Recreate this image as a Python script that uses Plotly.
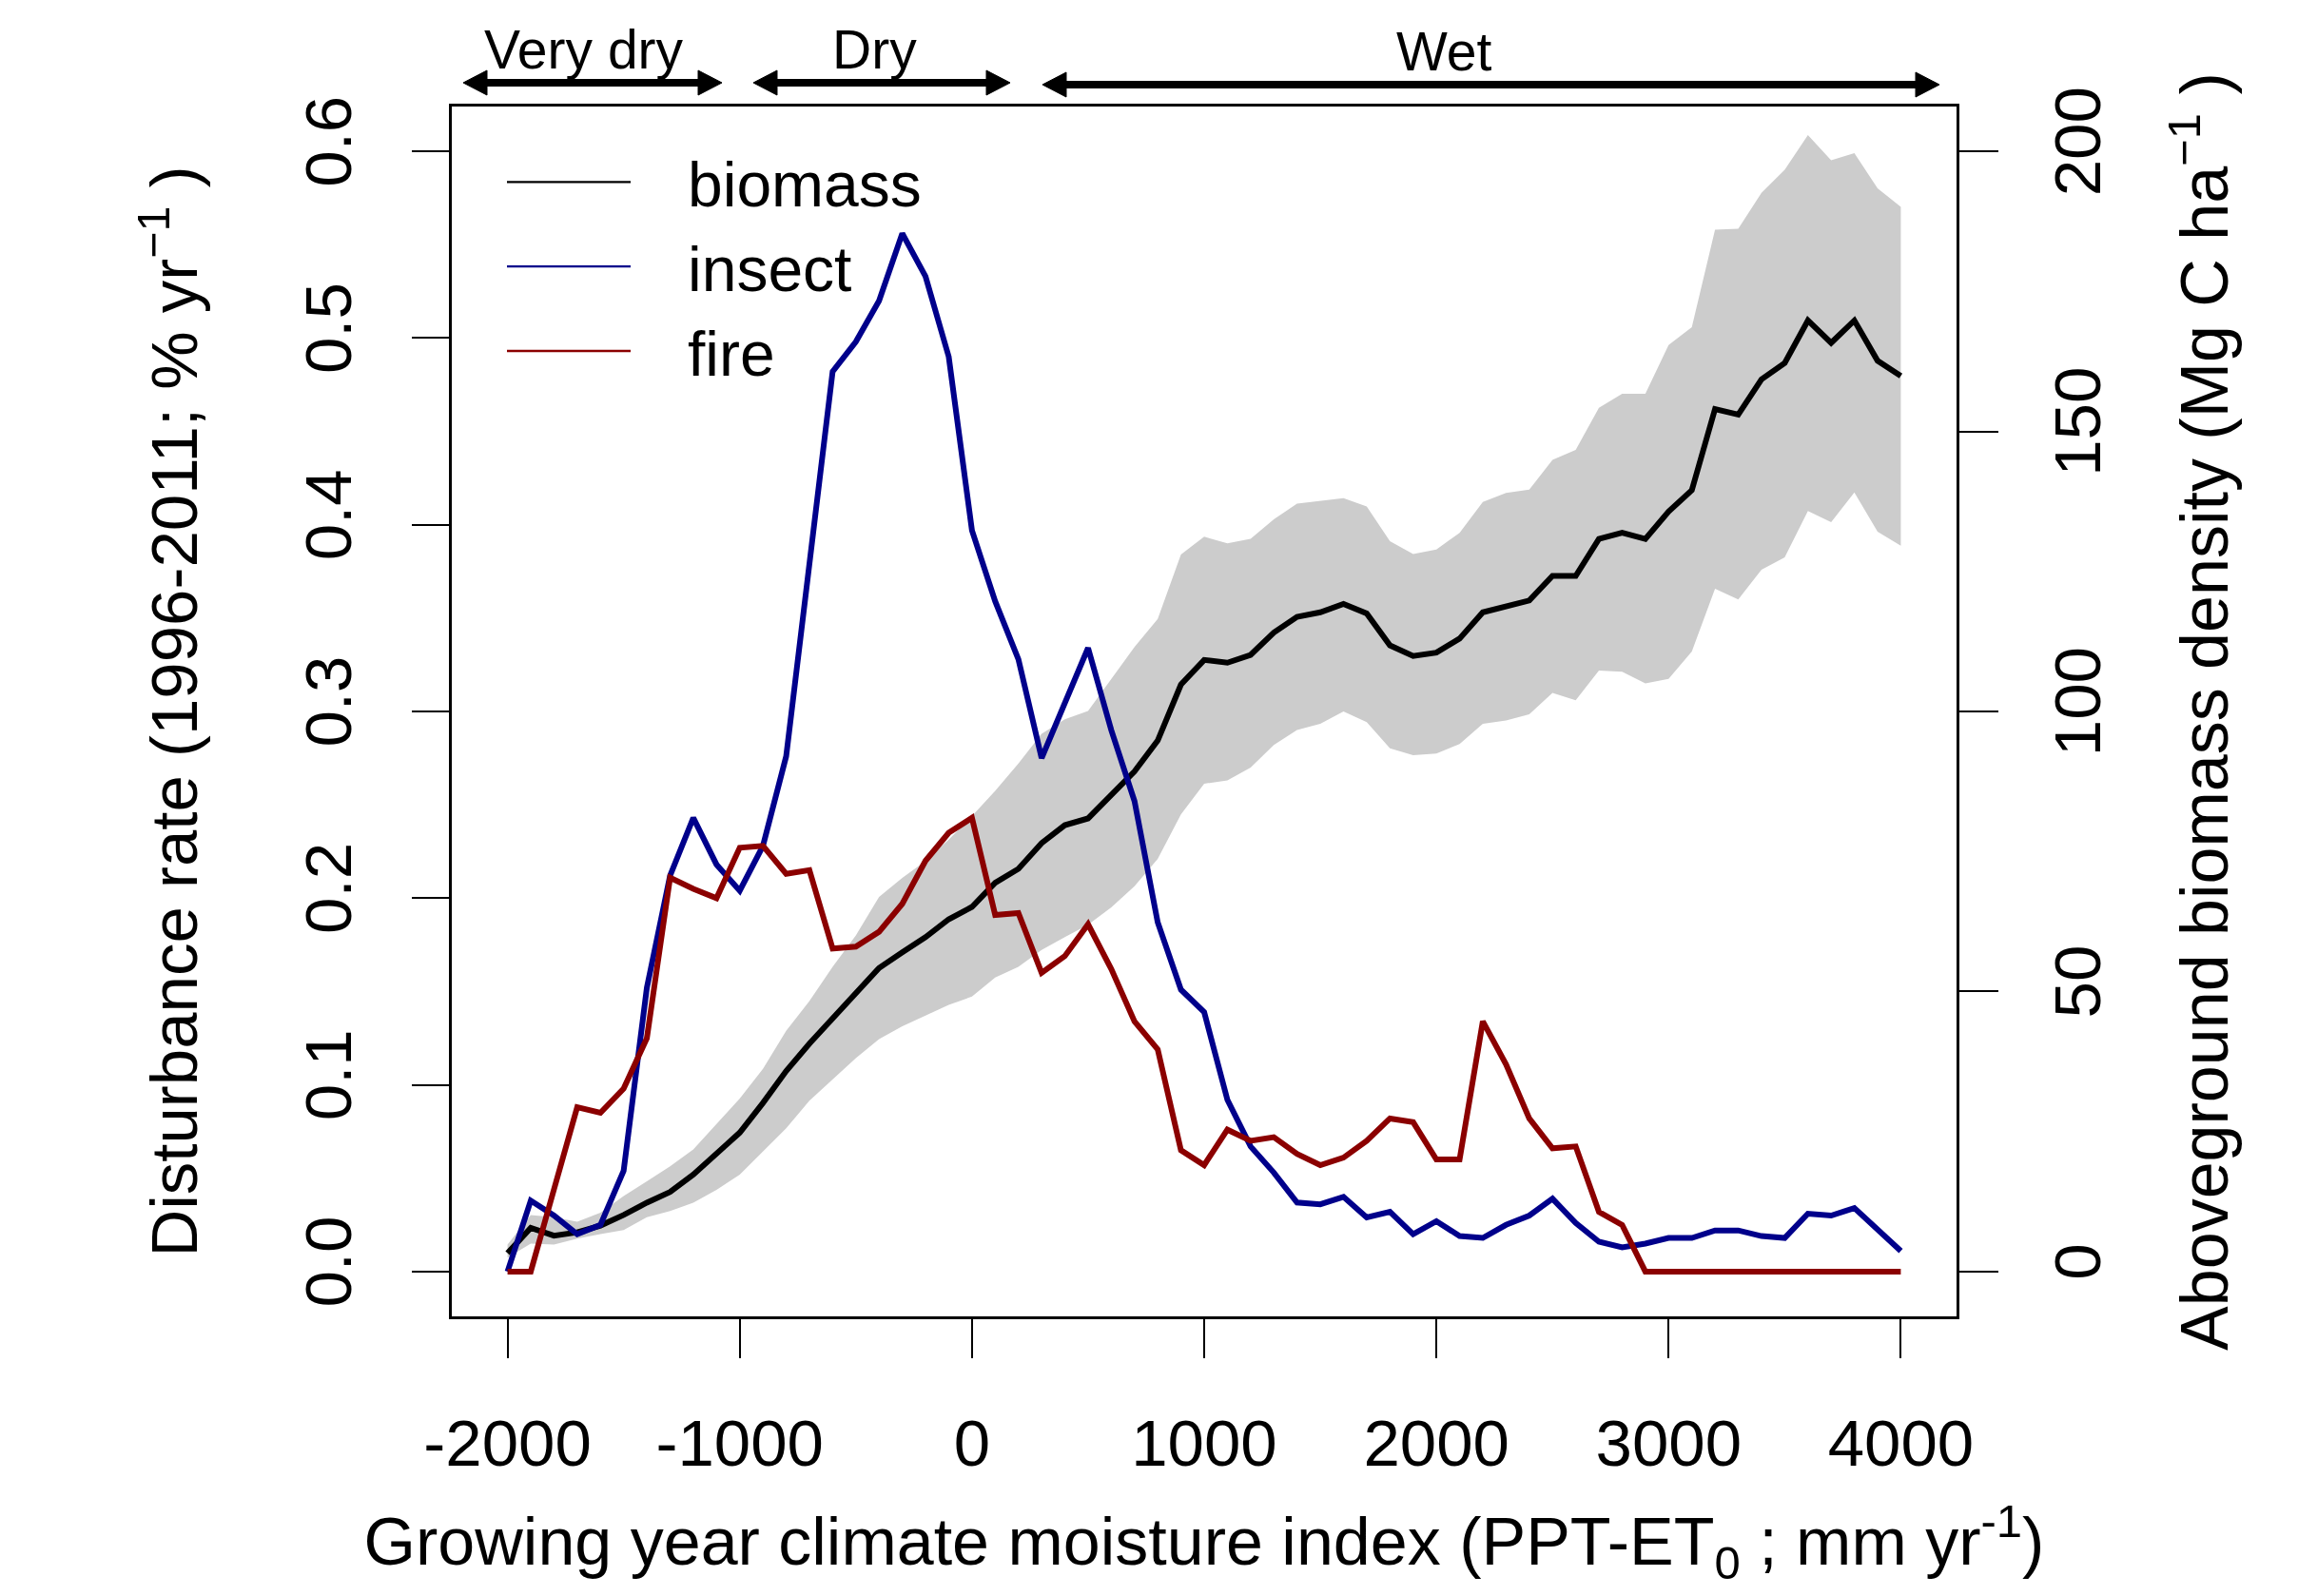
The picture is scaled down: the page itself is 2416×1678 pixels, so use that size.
import plotly.graph_objects as go

# ---------------- data ----------------
cmi = [-2000, -1900, -1800, -1700, -1600, -1500, -1400, -1300, -1200, -1100,
       -1000, -900, -800, -700, -600, -500, -400, -300, -200, -100,
       0, 100, 200, 300, 400, 500, 600, 700, 800, 900,
       1000, 1100, 1200, 1300, 1400, 1500, 1600, 1700, 1800, 1900,
       2000, 2100, 2200, 2300, 2400, 2500, 2600, 2700, 2800, 2900,
       3000, 3100, 3200, 3300, 3400, 3500, 3600, 3700, 3800, 3900, 4000]

insect = [0.000, 0.038, 0.030, 0.020, 0.025, 0.054, 0.152, 0.212, 0.243, 0.218,
          0.204, 0.228, 0.276, 0.380, 0.482, 0.498, 0.520, 0.556, 0.533, 0.490,
          0.397, 0.359, 0.328, 0.275, 0.305, 0.334, 0.290, 0.252, 0.187, 0.151,
          0.139, 0.092, 0.067, 0.053, 0.037, 0.036, 0.040, 0.029, 0.032, 0.020,
          0.027, 0.019, 0.018, 0.025, 0.030, 0.039, 0.026, 0.016, 0.013, 0.015,
          0.018, 0.018, 0.022, 0.022, 0.019, 0.018, 0.031, 0.030, 0.034, 0.022, 0.011]

fire = [0.000, 0.000, 0.044, 0.088, 0.085, 0.098, 0.125, 0.211, 0.205, 0.200,
        0.227, 0.228, 0.213, 0.215, 0.173, 0.174, 0.182, 0.197, 0.220, 0.235,
        0.243, 0.191, 0.192, 0.160, 0.169, 0.186, 0.162, 0.134, 0.119, 0.065,
        0.057, 0.076, 0.070, 0.072, 0.063, 0.057, 0.061, 0.070, 0.082, 0.080,
        0.060, 0.060, 0.134, 0.111, 0.082, 0.066, 0.067, 0.032, 0.025, 0.000,
        0.000, 0.000, 0.000, 0.000, 0.000, 0.000, 0.000, 0.000, 0.000, 0.000, 0.000]

biomass = [3.3, 7.8, 6.4, 7.0, 8.2, 10.1, 12.3, 14.2, 17.3, 21.1,
           24.8, 30.1, 35.8, 40.7, 45.3, 49.8, 54.2, 57.0, 59.7, 62.9,
           65.1, 69.4, 71.9, 76.5, 79.7, 80.9, 85.0, 89.3, 94.8, 104.8,
           109.2, 108.7, 110.1, 114.1, 116.9, 117.7, 119.2, 117.5, 111.8, 109.9,
           110.5, 113.0, 117.7, 118.8, 119.8, 124.2, 124.2, 130.8, 131.9, 130.8,
           135.7, 139.5, 154.0, 153.0, 159.3, 162.2, 169.8, 165.8, 169.8, 162.6, 159.9]

biomass_upper = [4.8, 10.1, 9.7, 8.9, 10.5, 13.5, 16.1, 18.8, 21.8, 26.4,
                 30.9, 36.2, 43.0, 48.3, 54.4, 60.0, 66.9, 70.3, 73.3, 77.1,
                 81.3, 85.8, 90.7, 96.0, 98.6, 100.1, 105.8, 111.5, 116.5, 128.0,
                 131.2, 130.0, 130.8, 134.3, 137.1, 137.6, 138.1, 136.6, 130.4, 128.1,
                 128.9, 131.9, 137.4, 139.0, 139.6, 144.9, 146.7, 154.2, 156.7, 156.7,
                 165.4, 168.6, 186.0, 186.2, 192.6, 196.7, 202.9, 198.4, 199.7, 193.4, 190.1]

biomass_lower = [2.5, 5.0, 4.8, 5.9, 6.7, 7.4, 9.7, 10.8, 12.3, 14.6,
                 17.3, 21.4, 25.6, 30.5, 34.3, 38.1, 41.5, 43.8, 45.7, 47.6,
                 49.1, 52.5, 54.4, 57.4, 59.7, 61.9, 65.0, 68.8, 73.7, 81.6,
                 87.1, 87.7, 90.0, 94.0, 96.7, 97.8, 100.0, 98.1, 93.4, 92.2,
                 92.5, 94.2, 97.8, 98.4, 99.5, 103.3, 102.0, 107.3, 107.1, 105.0,
                 105.8, 110.7, 121.9, 120.0, 125.3, 127.5, 135.8, 133.8, 139.1, 132.1, 129.6]

x_ticks = [-2000, -1000, 0, 1000, 2000, 3000, 4000]
x_ticktext = ["-2000", "-1000", "0", "1000", "2000", "3000", "4000"]
rate_ticks = [0.0, 0.1, 0.2, 0.3, 0.4, 0.5, 0.6]
rate_ticktext = ["0.0", "0.1", "0.2", "0.3", "0.4", "0.5", "0.6"]
bio_ticks = [0, 50, 100, 150, 200]
bio_ticktext = ["0", "50", "100", "150", "200"]

series_names = ["biomass", "insect", "fire"]
zones = ["Very dry", "Dry", "Wet"]

# ---------------- layout geometry ----------------
# page = 2416 x 1678; the html body adds an 8 px margin around the figure
PAGE_OFF = 8
W_FIG, H_FIG = 2400, 1662
PLOT_X0, PLOT_X1 = 475, 2057      # plot box in page pixels
PLOT_Y0, PLOT_Y1 = 112, 1384
L = PLOT_X0 - PAGE_OFF
T = PLOT_Y0 - PAGE_OFF
R = W_FIG + PAGE_OFF - PLOT_X1
B = H_FIG + PAGE_OFF - PLOT_Y1
PW = PLOT_X1 - PLOT_X0
PH = PLOT_Y1 - PLOT_Y0


def px(xp):
    return (xp - PLOT_X0) / PW


def py(yp):
    return (PLOT_Y1 - yp) / PH


FONT = "Liberation Sans, Arial, sans-serif"
BLACK = "#000000"
BLUE = "#00008B"
RED = "#8B0000"
GREY = "#CCCCCC"
LINE_W = 6
LEGEND_LINE_W = 2.3
GAP = "\u00a0\u00a0\u00a0"  # visual gap between legend key and label
colors = [BLACK, BLUE, RED]

fig = go.Figure()

# uncertainty band (biomass axis)
fig.add_trace(go.Scatter(x=cmi, y=biomass_lower, mode="lines",
                         line=dict(width=0, color=GREY), showlegend=False,
                         hoverinfo="skip", yaxis="y"))
fig.add_trace(go.Scatter(x=cmi, y=biomass_upper, mode="lines", fill="tonexty",
                         fillcolor=GREY, line=dict(width=0, color=GREY),
                         showlegend=False, hoverinfo="skip", yaxis="y"))
fig.add_trace(go.Scatter(x=cmi, y=biomass, mode="lines", name=series_names[0],
                         line=dict(color=BLACK, width=LINE_W), yaxis="y",
                         showlegend=False, legendgroup=series_names[0]))
fig.add_trace(go.Scatter(x=cmi, y=insect, mode="lines", name=series_names[1],
                         line=dict(color=BLUE, width=LINE_W), yaxis="y2",
                         showlegend=False, legendgroup=series_names[1]))
fig.add_trace(go.Scatter(x=cmi, y=fire, mode="lines", name=series_names[2],
                         line=dict(color=RED, width=LINE_W), yaxis="y2",
                         showlegend=False, legendgroup=series_names[2]))

# legend keys (thin lines as in the original legend)
for nm, col in zip(series_names, colors):
    fig.add_trace(go.Scatter(x=[None], y=[None], mode="lines", name=GAP + nm,
                             legendgroup=nm, line=dict(color=col, width=LEGEND_LINE_W),
                             yaxis="y2", hoverinfo="skip"))

axis_common = dict(showgrid=False, zeroline=False, ticks="outside", ticklen=41,
                   tickwidth=2, tickcolor=BLACK, automargin=False,
                   tickfont=dict(family=FONT, size=69, color=BLACK))

fig.update_layout(
    template="none",
    width=W_FIG, height=H_FIG, autosize=False,
    margin=dict(l=L, r=R, t=T, b=B, pad=0),
    paper_bgcolor="white", plot_bgcolor="white",
    font=dict(family=FONT, size=69, color=BLACK),
    xaxis=dict(range=[-2240, 4240], tickmode="array", tickvals=x_ticks,
               ticktext=x_ticktext, showline=True, mirror=True, linewidth=3,
               linecolor=BLACK, ticklabelstandoff=30,
               title=dict(text="Growing year climate moisture index (PPT-ET<sub>0</sub> ; mm yr<sup>-1</sup>)",
                          font=dict(family=FONT, size=70, color=BLACK), standoff=64),
               **axis_common),
    yaxis=dict(range=[-8, 208], side="right", tickmode="array", tickvals=bio_ticks,
               ticktext=bio_ticktext, tickangle=-90, showline=True, mirror=True,
               linewidth=3, linecolor=BLACK, ticklabelstandoff=24,
               title=dict(text="Aboveground biomass density (Mg C ha<sup>−1</sup> )",
                          font=dict(family=FONT, size=70, color=BLACK), standoff=72),
               **axis_common),
    yaxis2=dict(range=[-0.024, 0.624], side="left", overlaying="y", anchor="x",
                tickmode="array", tickvals=rate_ticks, ticktext=rate_ticktext,
                tickangle=-90, showline=False, ticklabelstandoff=36,
                title=dict(text="Disturbance rate (1996-2011; % yr<sup>−1</sup> )",
                           font=dict(family=FONT, size=69, color=BLACK), standoff=77),
                **axis_common),
    legend=dict(x=px(528), y=py(142), xanchor="left", yanchor="top",
                bgcolor="rgba(0,0,0,0)", borderwidth=0, itemwidth=130,
                traceorder="normal", groupclick="toggleitem",
                font=dict(family=FONT, size=66, color=BLACK), tracegroupgap=0),
    showlegend=True,
)

# zone arrows above the plot
arrows = [(487, 759, 87), (792, 1062, 87), (1096, 2039, 89)]
label_pos = [(614, 52), (919, 52), (1518, 54)]
HEAD_L, HEAD_H, LW = 25, 13, 8
shapes = []
for (x0, x1, yc) in arrows:
    shapes.append(dict(type="line", xref="paper", yref="paper",
                       x0=px(x0 + HEAD_L - 2), x1=px(x1 - HEAD_L + 2),
                       y0=py(yc), y1=py(yc), line=dict(color=BLACK, width=LW)))
    for tip, sgn in ((x0, 1), (x1, -1)):
        path = "M {:.5f},{:.5f} L {:.5f},{:.5f} L {:.5f},{:.5f} Z".format(
            px(tip), py(yc),
            px(tip + sgn * HEAD_L), py(yc - HEAD_H),
            px(tip + sgn * HEAD_L), py(yc + HEAD_H))
        shapes.append(dict(type="path", xref="paper", yref="paper", path=path,
                           fillcolor=BLACK, line=dict(color=BLACK, width=1)))
fig.update_layout(shapes=shapes)

for name, (xc, yc) in zip(zones, label_pos):
    fig.add_annotation(text=name, xref="paper", yref="paper", x=px(xc), y=py(yc),
                       xanchor="center", yanchor="middle", showarrow=False,
                       font=dict(family=FONT, size=57, color=BLACK))

fig.write_html("out.html", config={"displayModeBar": False})
